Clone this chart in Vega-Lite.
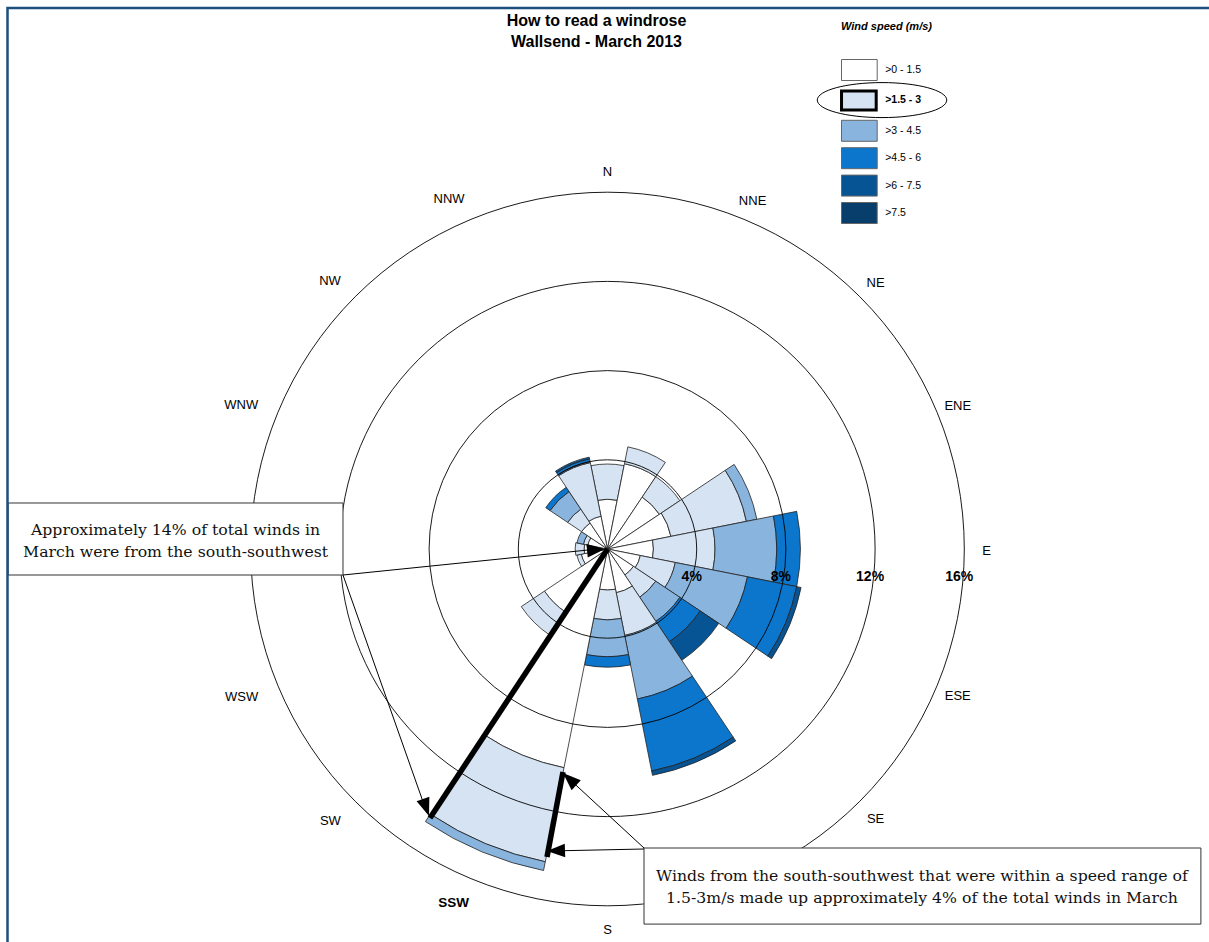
{
  "$schema": "https://vega.github.io/schema/vega-lite/v6.json",
  "width": 1203,
  "height": 786,
  "autosize": {"type": "none"},
  "padding": {"left": 6, "top": 156, "right": 0, "bottom": 0},
  "background": "white",
  "config": {"view": {"stroke": null}, "font": "Liberation Sans"},
  "title": {"text": ["How to read a windrose", "Wallsend - March 2013"], "font": "Liberation Sans", "fontSize": 16, "fontWeight": "bold", "color": "black", "anchor": "middle", "frame": "group", "dx": -11, "offset": -43, "lineHeight": 21},
  "datasets": {
    "bands": [
      {"dir": "N", "speed": ">0 - 1.5", "pct": 2.23}, {"dir": "N", "speed": ">1.5 - 3", "pct": 1.58},
      {"dir": "NNE", "speed": ">0 - 1.5", "pct": 3.9}, {"dir": "NNE", "speed": ">1.5 - 3", "pct": 0.77},
      {"dir": "NE", "speed": ">0 - 1.5", "pct": 2.8}, {"dir": "NE", "speed": ">1.5 - 3", "pct": 1.1},
      {"dir": "ENE", "speed": ">0 - 1.5", "pct": 2.9}, {"dir": "ENE", "speed": ">1.5 - 3", "pct": 3.45}, {"dir": "ENE", "speed": ">3 - 4.5", "pct": 0.48},
      {"dir": "E", "speed": ">0 - 1.5", "pct": 2.06}, {"dir": "E", "speed": ">1.5 - 3", "pct": 2.76}, {"dir": "E", "speed": ">3 - 4.5", "pct": 2.77}, {"dir": "E", "speed": ">4.5 - 6", "pct": 1.06},
      {"dir": "ESE", "speed": ">0 - 1.5", "pct": 1.5}, {"dir": "ESE", "speed": ">1.5 - 3", "pct": 1.6}, {"dir": "ESE", "speed": ">3 - 4.5", "pct": 3.3}, {"dir": "ESE", "speed": ">4.5 - 6", "pct": 2.25}, {"dir": "ESE", "speed": ">6 - 7.5", "pct": 0.2},
      {"dir": "SE", "speed": ">0 - 1.5", "pct": 1.4}, {"dir": "SE", "speed": ">1.5 - 3", "pct": 1.2}, {"dir": "SE", "speed": ">3 - 4.5", "pct": 1.3}, {"dir": "SE", "speed": ">4.5 - 6", "pct": 1.1}, {"dir": "SE", "speed": ">6 - 7.5", "pct": 1.0},
      {"dir": "SSE", "speed": ">0 - 1.5", "pct": 2.0}, {"dir": "SSE", "speed": ">1.5 - 3", "pct": 1.95}, {"dir": "SSE", "speed": ">3 - 4.5", "pct": 2.91}, {"dir": "SSE", "speed": ">4.5 - 6", "pct": 3.29}, {"dir": "SSE", "speed": ">6 - 7.5", "pct": 0.2},
      {"dir": "S", "speed": ">0 - 1.5", "pct": 1.84}, {"dir": "S", "speed": ">1.5 - 3", "pct": 1.34}, {"dir": "S", "speed": ">3 - 4.5", "pct": 1.65}, {"dir": "S", "speed": ">4.5 - 6", "pct": 0.47},
      {"dir": "SSW", "speed": ">0 - 1.5", "pct": 10.0}, {"dir": "SSW", "speed": ">1.5 - 3", "pct": 4.3}, {"dir": "SSW", "speed": ">3 - 4.5", "pct": 0.4},
      {"dir": "SW", "speed": ">0 - 1.5", "pct": 3.4}, {"dir": "SW", "speed": ">1.5 - 3", "pct": 1.25},
      {"dir": "WSW", "speed": ">0 - 1.5", "pct": 1.2}, {"dir": "WSW", "speed": ">1.5 - 3", "pct": 0.2},
      {"dir": "W", "speed": ">0 - 1.5", "pct": 1.05}, {"dir": "W", "speed": ">1.5 - 3", "pct": 0.4},
      {"dir": "WNW", "speed": ">0 - 1.5", "pct": 0.9}, {"dir": "WNW", "speed": ">1.5 - 3", "pct": 0.2}, {"dir": "WNW", "speed": ">3 - 4.5", "pct": 0.3},
      {"dir": "NW", "speed": ">0 - 1.5", "pct": 1.4}, {"dir": "NW", "speed": ">1.5 - 3", "pct": 0.75}, {"dir": "NW", "speed": ">3 - 4.5", "pct": 0.95}, {"dir": "NW", "speed": ">4.5 - 6", "pct": 0.23},
      {"dir": "NNW", "speed": ">0 - 1.5", "pct": 1.5}, {"dir": "NNW", "speed": ">1.5 - 3", "pct": 2.45}, {"dir": "NNW", "speed": ">3 - 4.5", "pct": 0.05}, {"dir": "NNW", "speed": ">4.5 - 6", "pct": 0.12}, {"dir": "NNW", "speed": ">6 - 7.5", "pct": 0.08}
    ],
    "sectors": [
      {"dir": "N", "a0": -11.25, "a1": 11.25}, {"dir": "NNE", "a0": 11.25, "a1": 33.75},
      {"dir": "NE", "a0": 33.75, "a1": 56.25}, {"dir": "ENE", "a0": 56.25, "a1": 78.75},
      {"dir": "E", "a0": 78.75, "a1": 101.25}, {"dir": "ESE", "a0": 101.25, "a1": 123.75},
      {"dir": "SE", "a0": 123.75, "a1": 146.25}, {"dir": "SSE", "a0": 146.25, "a1": 168.75},
      {"dir": "S", "a0": 168.75, "a1": 191.25}, {"dir": "SSW", "a0": 191.25, "a1": 213.75},
      {"dir": "SW", "a0": 213.75, "a1": 236.25}, {"dir": "WSW", "a0": 236.25, "a1": 258.75},
      {"dir": "W", "a0": 258.75, "a1": 281.25}, {"dir": "WNW", "a0": 281.25, "a1": 303.75},
      {"dir": "NW", "a0": 303.75, "a1": 326.25}, {"dir": "NNW", "a0": 326.25, "a1": 348.75}
    ],
    "compass": [
      {"dir": "N", "deg": 0, "side": "mid"}, {"dir": "NNE", "deg": 22.5, "side": "east"}, {"dir": "NE", "deg": 45, "side": "east"}, {"dir": "ENE", "deg": 67.5, "side": "east"},
      {"dir": "E", "deg": 90, "side": "east"}, {"dir": "ESE", "deg": 112.5, "side": "east"}, {"dir": "SE", "deg": 135, "side": "east"},
      {"dir": "S", "deg": 180, "side": "mid"}, {"dir": "SSW", "deg": 202.5, "side": "mark"}, {"dir": "SW", "deg": 225, "side": "west"}, {"dir": "WSW", "deg": 247.5, "side": "west"},
      {"dir": "WNW", "deg": 292.5, "side": "west"}, {"dir": "NW", "deg": 315, "side": "west"}, {"dir": "NNW", "deg": 337.5, "side": "west"}
    ],
    "rings": [
      {"ring": 4, "label": "4%"}, {"ring": 8, "label": "8%"}, {"ring": 12, "label": "12%"}, {"ring": 16, "label": "16%"}
    ],
    "frame": [{"x0": -26.906, "x1": 30, "y0": 24.26, "y1": -20}],
    "boxes": [
      {"x0": -26.88, "x1": -11.861, "y0": 2.063, "y1": -1.166},
      {"x0": 1.637, "x1": 26.61, "y0": -13.408, "y1": -16.82}
    ],
    "notes": [
      {"x": -19.37, "y": 0.852, "text": ["Approximately 14% of total winds in", "March were from the south-southwest"]},
      {"x": 14.1, "y": -14.664, "text": ["Winds from the south-southwest that were within a speed range of", "1.5-3m/s made up approximately 4% of the total winds in March"]}
    ],
    "pointers": [
      {"kind": "thin", "x": -11.861, "y": -1.166, "x2": -0.426, "y2": 0},
      {"kind": "thin", "x": -11.861, "y": -1.166, "x2": -8.094, "y2": -11.839},
      {"kind": "thin", "x": 1.637, "y": -13.408, "x2": -1.906, "y2": -10.135},
      {"kind": "thin", "x": 1.637, "y": -13.453, "x2": -2.623, "y2": -13.543},
      {"kind": "thick", "x": 0, "y": 0, "x2": -7.96, "y2": -12.063},
      {"kind": "thick", "x": -1.996, "y": -10.0, "x2": -2.713, "y2": -13.812}
    ],
    "arrows": [
      {"x": -0.112, "y": 0, "bearing": 84.3},
      {"x": -8.004, "y": -11.973, "bearing": 160.5},
      {"x": -1.996, "y": -10.045, "bearing": 312.8},
      {"x": -2.713, "y": -13.543, "bearing": 268}
    ],
    "marker": [{"x": 12.31, "y": 20.13}]
  },
  "layer": [
    {
      "data": {"name": "bands"},
      "transform": [
        {"stack": "pct", "groupby": ["dir"], "sort": [{"field": "speed", "order": "ascending"}], "as": ["r0", "r1"]},
        {"lookup": "dir", "from": {"data": {"name": "sectors"}, "key": "dir", "fields": ["a0", "a1"]}}
      ],
      "mark": {"type": "arc", "stroke": "#222222", "strokeWidth": 0.8},
      "encoding": {
        "theta": {"field": "a0", "type": "quantitative", "stack": null, "scale": {"type": "linear", "domain": [0, 360], "range": [0, 6.283185307179586], "zero": false, "nice": false}},
        "theta2": {"field": "a1"},
        "radius": {"field": "r1", "type": "quantitative", "stack": null, "scale": {"type": "linear", "domain": [0, 16], "range": [0, 356.8], "zero": true, "nice": false}},
        "radius2": {"field": "r0"},
        "color": {
          "field": "speed", "type": "nominal",
          "scale": {"domain": [">0 - 1.5", ">1.5 - 3", ">3 - 4.5", ">4.5 - 6", ">6 - 7.5", ">7.5"], "range": ["#ffffff", "#d5e3f3", "#89b4de", "#0b76cc", "#075495", "#083e6c"]},
          "legend": {
            "title": "Wind speed (m/s)", "orient": "none", "legendX": 835, "legendY": -135, "padding": 0,
            "titleFont": "Liberation Sans", "titleFontSize": 11, "titleFontStyle": "italic", "titleFontWeight": "bold", "titleColor": "black", "titlePadding": 27,
            "symbolType": {"expr": "(datum.value === '>1.5 - 3' ? 'M-2.65,-1H1V1H-2.65Z' : 'M-2.4,-1H1V1H-2.4Z')"},
            "symbolSize": {"expr": "(datum.value === '>1.5 - 3' ? 361 : 441)"},
            "symbolOffset": 14.7, "symbolOpacity": 1,
            "symbolStrokeColor": {"expr": "(datum.value === '>1.5 - 3' ? 'black' : '#666666')"},
            "symbolStrokeWidth": {"expr": "(datum.value === '>1.5 - 3' ? 3 : 1)"},
            "labelFontWeight": {"expr": "(datum.value === '>1.5 - 3' ? 'bold' : 'normal')"},
            "labelFont": "Liberation Sans", "labelFontSize": 10.5, "labelColor": "black", "labelOffset": 7.5, "rowPadding": 1.4
          }
        }
      }
    },
    {
      "data": {"name": "rings"},
      "mark": {"type": "arc", "theta": 0, "theta2": 6.2832, "filled": false, "color": "black", "stroke": "black", "strokeWidth": 0.9},
      "encoding": {
        "radius": {"field": "ring", "type": "quantitative", "stack": null, "scale": {"type": "linear", "domain": [0, 16], "range": [0, 356.8], "zero": true, "nice": false}}
      }
    },
    {
      "data": {"name": "compass"},
      "transform": [{"filter": "datum.side === 'mid' || datum.side === 'east'"}],
      "mark": {"type": "text", "fontSize": 13, "color": "black", "font": "Liberation Sans", "dy": 2},
      "encoding": {
        "theta": {"field": "deg", "type": "quantitative", "stack": null, "scale": {"type": "linear", "domain": [0, 360], "range": [0, 6.283185307179586], "zero": false, "nice": false}},
        "radius": {"datum": 17.0, "type": "quantitative", "scale": {"type": "linear", "domain": [0, 16], "range": [0, 356.8], "zero": true, "nice": false}},
        "text": {"field": "dir"}
      }
    },
    {
      "data": {"name": "compass"},
      "transform": [{"filter": "datum.side === 'west'"}],
      "mark": {"type": "text", "fontSize": 13, "color": "black", "font": "Liberation Sans", "align": "right", "dx": 3, "dy": 2},
      "encoding": {
        "theta": {"field": "deg", "type": "quantitative", "stack": null, "scale": {"type": "linear", "domain": [0, 360], "range": [0, 6.283185307179586], "zero": false, "nice": false}},
        "radius": {"datum": 17.1, "type": "quantitative", "scale": {"type": "linear", "domain": [0, 16], "range": [0, 356.8], "zero": true, "nice": false}},
        "text": {"field": "dir"}
      }
    },
    {
      "data": {"name": "compass"},
      "transform": [{"filter": "datum.side === 'mark'"}],
      "mark": {"type": "text", "fontSize": 13.5, "fontWeight": "bold", "color": "black", "font": "Liberation Sans", "dx": -7},
      "encoding": {
        "theta": {"field": "deg", "type": "quantitative", "stack": null, "scale": {"type": "linear", "domain": [0, 360], "range": [0, 6.283185307179586], "zero": false, "nice": false}},
        "radius": {"datum": 17.2, "type": "quantitative", "scale": {"type": "linear", "domain": [0, 16], "range": [0, 356.8], "zero": true, "nice": false}},
        "text": {"field": "dir"}
      }
    },
    {
      "data": {"name": "rings"},
      "mark": {"type": "text", "fontSize": 14, "fontWeight": "bold", "color": "black", "dx": -5, "font": "Liberation Sans"},
      "encoding": {
        "x": {"field": "ring", "type": "quantitative", "axis": null, "scale": {"type": "linear", "domain": [-26.973, 26.973], "zero": false, "nice": false}},
        "y": {"datum": -1.25, "type": "quantitative", "axis": null, "scale": {"type": "linear", "domain": [-17.623, 17.623], "zero": false, "nice": false}},
        "text": {"field": "label"}
      }
    },
    {
      "data": {"name": "boxes"},
      "mark": {"type": "rect", "fill": "white", "stroke": "#333333", "strokeWidth": 1},
      "encoding": {
        "x": {"field": "x0", "type": "quantitative", "axis": null, "scale": {"type": "linear", "domain": [-26.973, 26.973], "zero": false, "nice": false}},
        "x2": {"field": "x1"},
        "y": {"field": "y0", "type": "quantitative", "axis": null, "scale": {"type": "linear", "domain": [-17.623, 17.623], "zero": false, "nice": false}},
        "y2": {"field": "y1"}
      }
    },
    {
      "data": {"name": "frame"},
      "mark": {"type": "rect", "filled": false, "color": "#1d4f7e", "stroke": "#1d4f7e", "strokeWidth": 2.5},
      "encoding": {
        "x": {"field": "x0", "type": "quantitative", "axis": null, "scale": {"type": "linear", "domain": [-26.973, 26.973], "zero": false, "nice": false}},
        "x2": {"field": "x1"},
        "y": {"field": "y0", "type": "quantitative", "axis": null, "scale": {"type": "linear", "domain": [-17.623, 17.623], "zero": false, "nice": false}},
        "y2": {"field": "y1"}
      }
    },
    {
      "data": {"name": "pointers"},
      "transform": [{"filter": "datum.kind === 'thin'"}],
      "mark": {"type": "rule", "color": "black", "strokeWidth": 1},
      "encoding": {
        "x": {"field": "x", "type": "quantitative", "axis": null, "scale": {"type": "linear", "domain": [-26.973, 26.973], "zero": false, "nice": false}},
        "x2": {"field": "x2"},
        "y": {"field": "y", "type": "quantitative", "axis": null, "scale": {"type": "linear", "domain": [-17.623, 17.623], "zero": false, "nice": false}},
        "y2": {"field": "y2"}
      }
    },
    {
      "data": {"name": "pointers"},
      "transform": [{"filter": "datum.kind === 'thick'"}],
      "mark": {"type": "rule", "color": "black", "strokeWidth": 5.5},
      "encoding": {
        "x": {"field": "x", "type": "quantitative", "axis": null, "scale": {"type": "linear", "domain": [-26.973, 26.973], "zero": false, "nice": false}},
        "x2": {"field": "x2"},
        "y": {"field": "y", "type": "quantitative", "axis": null, "scale": {"type": "linear", "domain": [-17.623, 17.623], "zero": false, "nice": false}},
        "y2": {"field": "y2"}
      }
    },
    {
      "data": {"name": "arrows"},
      "mark": {"type": "point", "shape": "M0,0L-0.75,2L0.75,2Z", "filled": true, "color": "black", "opacity": 1, "size": 324},
      "encoding": {
        "x": {"field": "x", "type": "quantitative", "axis": null, "scale": {"type": "linear", "domain": [-26.973, 26.973], "zero": false, "nice": false}},
        "y": {"field": "y", "type": "quantitative", "axis": null, "scale": {"type": "linear", "domain": [-17.623, 17.623], "zero": false, "nice": false}},
        "angle": {"field": "bearing", "type": "quantitative", "scale": null}
      }
    },
    {
      "data": {"name": "notes"},
      "mark": {"type": "text", "font": "DejaVu Serif", "fontSize": 15.7, "color": "#111111", "lineHeight": 22, "align": "center", "baseline": "middle"},
      "encoding": {
        "x": {"field": "x", "type": "quantitative", "axis": null, "scale": {"type": "linear", "domain": [-26.973, 26.973], "zero": false, "nice": false}},
        "y": {"field": "y", "type": "quantitative", "axis": null, "scale": {"type": "linear", "domain": [-17.623, 17.623], "zero": false, "nice": false}},
        "text": {"field": "text"}
      }
    },
    {
      "data": {"name": "marker"},
      "mark": {"type": "point", "shape": "M-3.7,0C-3.7,-0.5523,-2.0435,-1,0,-1C2.0435,-1,3.7,-0.5523,3.7,0C3.7,0.5523,2.0435,1,0,1C-2.0435,1,-3.7,0.5523,-3.7,0Z", "filled": false, "color": "black", "opacity": 1, "strokeWidth": 1, "size": 1225},
      "encoding": {
        "x": {"field": "x", "type": "quantitative", "axis": null, "scale": {"type": "linear", "domain": [-26.973, 26.973], "zero": false, "nice": false}},
        "y": {"field": "y", "type": "quantitative", "axis": null, "scale": {"type": "linear", "domain": [-17.623, 17.623], "zero": false, "nice": false}}
      }
    }
  ]
}
